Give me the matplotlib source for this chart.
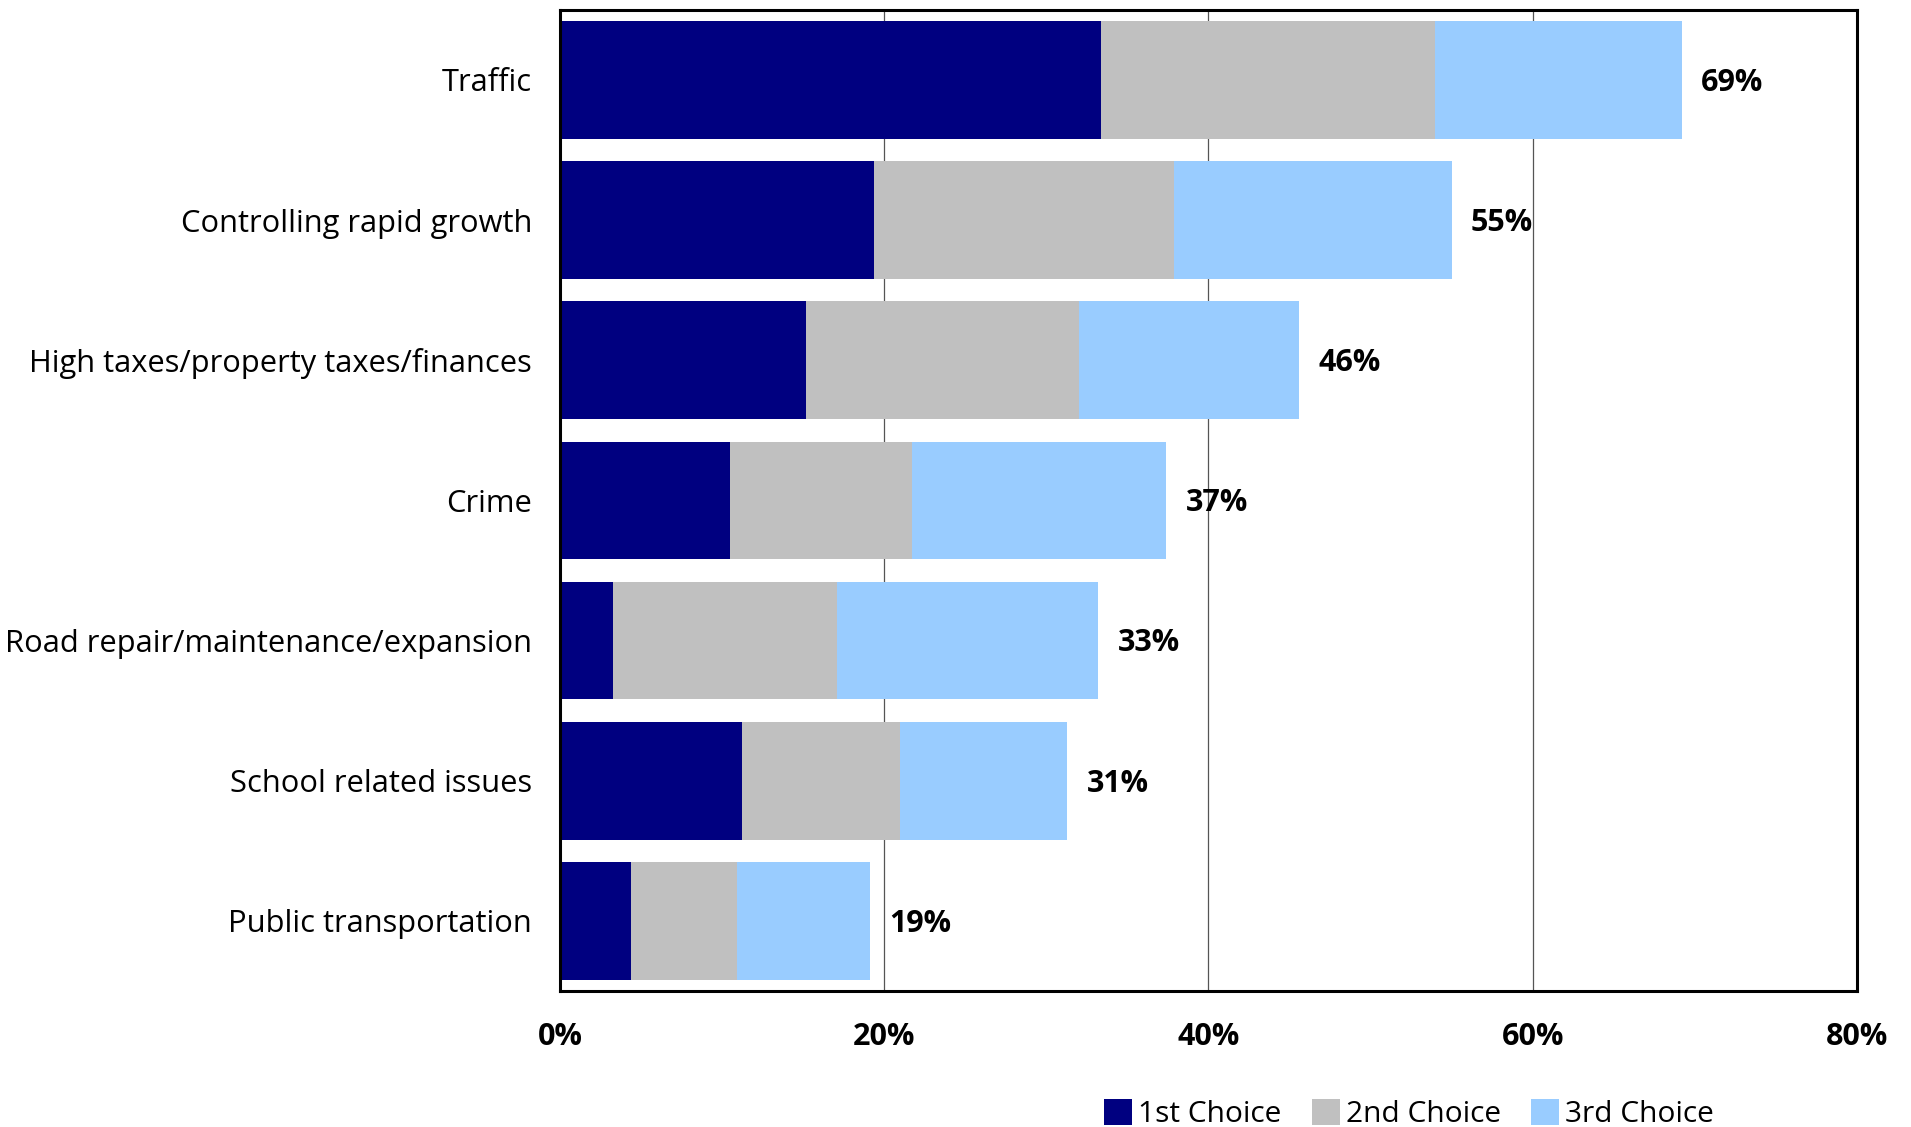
import matplotlib.pyplot as plt
from matplotlib.ticker import FuncFormatter

plt.rcParams['font.family'] = ['Open Sans', 'DejaVu Sans']

issues = ["Traffic", "Controlling rapid growth", "High taxes/property taxes/finances",
          "Crime", "Road repair/maintenance/expansion", "School related issues",
          "Public transportation"]
first = [33.4, 19.4, 15.2, 10.5, 3.3, 11.2, 4.4]
second = [20.6, 18.45, 16.8, 11.2, 13.8, 9.8, 6.5]
third = [15.2, 17.15, 13.6, 15.7, 16.1, 10.3, 8.2]
totals = [69, 55, 46, 37, 33, 31, 19]
series_names = ["1st Choice", "2nd Choice", "3rd Choice"]
colors = ["#000080", "#C0C0C0", "#99CCFF"]

fig = plt.figure(figsize=(19.11, 11.27), dpi=100)
ax = fig.add_axes([0.293, 0.1207, 0.6787, 0.8706])

ypos = list(range(len(issues)))
left = [0] * len(issues)
for vals, name, c in zip([first, second, third], series_names, colors):
    ax.barh(ypos, vals, left=left, height=0.84, color=c, label=name, zorder=2)
    left = [l + v for l, v in zip(left, vals)]

for y, end, tot in zip(ypos, left, totals):
    ax.text(end + 1.2, y + 0.02, f"{tot}%", va="center", ha="left",
            fontsize=22, fontweight="bold", zorder=3)

ax.set_xlim(0, 80)
ax.set_ylim(len(issues) - 0.5, -0.5)
ax.set_xticks([0, 20, 40, 60, 80])
ax.xaxis.set_major_formatter(FuncFormatter(lambda v, p: f"{v:.0f}%"))
ax.set_yticks(ypos)
ax.set_yticklabels(issues, fontsize=22.2)
for lab in ax.get_xticklabels():
    lab.set_fontweight("bold")
    lab.set_fontsize(22)
ax.tick_params(axis="both", length=0)
ax.tick_params(axis="x", pad=22)
ax.tick_params(axis="y", pad=20)
ax.grid(axis="x", color="#555555", linewidth=0.9, zorder=0)
for s in ax.spines.values():
    s.set_linewidth(2.2)
    s.set_color("black")

fig.legend(loc="center right", bbox_to_anchor=(0.897, 0.0115), ncol=3, frameon=False,
           fontsize=21.5, handlelength=0.95, handleheight=0.95, handletextpad=0.2,
           columnspacing=1.0, borderpad=0, borderaxespad=0)

fig.savefig("out.png", dpi=100)
